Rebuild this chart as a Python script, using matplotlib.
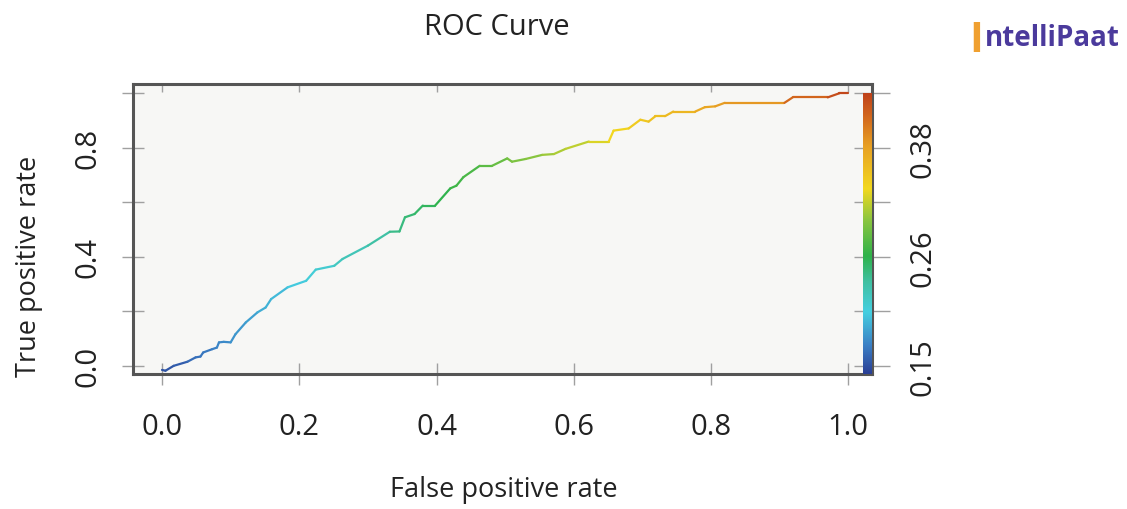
import matplotlib
matplotlib.use("Agg")
import matplotlib.pyplot as plt
import numpy as np
from matplotlib.collections import LineCollection
from matplotlib.colors import LinearSegmentedColormap, Normalize

plt.rcParams['font.family'] = ['Open Sans', 'DejaVu Sans']

# ROC curve points
fpr = [0.0, 0.005, 0.017, 0.037, 0.049, 0.056, 0.060, 0.073, 0.080, 0.083,
       0.090, 0.100, 0.107, 0.122, 0.139, 0.151, 0.159, 0.183, 0.210, 0.224,
       0.251, 0.263, 0.300, 0.332, 0.346, 0.354, 0.368, 0.380, 0.398, 0.420,
       0.429, 0.439, 0.463, 0.481, 0.503, 0.510, 0.530, 0.554, 0.571, 0.588,
       0.622, 0.651, 0.658, 0.680, 0.697, 0.709, 0.719, 0.733, 0.745, 0.777,
       0.791, 0.806, 0.820, 0.907, 0.919, 0.970, 0.987, 1.000]
tpr = [-0.015, -0.018, 0.0, 0.015, 0.031, 0.034, 0.049, 0.061, 0.067, 0.086,
       0.088, 0.086, 0.116, 0.159, 0.196, 0.214, 0.245, 0.288, 0.312, 0.353,
       0.367, 0.392, 0.441, 0.492, 0.493, 0.545, 0.557, 0.588, 0.588, 0.651,
       0.661, 0.692, 0.734, 0.734, 0.761, 0.749, 0.759, 0.774, 0.777, 0.796,
       0.823, 0.823, 0.863, 0.871, 0.903, 0.896, 0.916, 0.916, 0.933, 0.933,
       0.949, 0.952, 0.965, 0.965, 0.985, 0.985, 1.0, 1.0]
cutoff = [0.150, 0.151, 0.155, 0.161, 0.164, 0.166, 0.167, 0.171, 0.173, 0.174,
          0.176, 0.179, 0.181, 0.185, 0.190, 0.193, 0.196, 0.203, 0.210, 0.214,
          0.222, 0.226, 0.236, 0.245, 0.249, 0.252, 0.256, 0.259, 0.264, 0.271,
          0.273, 0.276, 0.283, 0.288, 0.295, 0.297, 0.302, 0.309, 0.314, 0.319,
          0.329, 0.337, 0.339, 0.346, 0.350, 0.354, 0.357, 0.361, 0.364, 0.373,
          0.377, 0.382, 0.386, 0.411, 0.414, 0.429, 0.434, 0.438]

x_ticks = [0.0, 0.2, 0.4, 0.6, 0.8, 1.0]
y_labeled = [0.0, 0.4, 0.8]
y_unlabeled = [0.2, 0.6, 1.0]
cbar_labels = ['0.15', '0.26', '0.38']

cmap = LinearSegmentedColormap.from_list('roc', [
    (0.00, '#2a3f95'), (0.10, '#3b7fc5'), (0.22, '#45cfe0'), (0.33, '#40c0a0'),
    (0.42, '#2fb24a'), (0.55, '#8cc63f'), (0.66, '#f2d81e'), (0.81, '#e8a124'),
    (0.92, '#d2661d'), (1.00, '#bf421a')])
vmin, vmax = 0.14, 0.4375
norm = Normalize(vmin, vmax)

fig = plt.figure(figsize=(11.27, 5.10), dpi=100)
ax = fig.add_axes([0.118, 0.2647, 0.656, 0.5686])
ax.set_facecolor('#f7f7f5')
ax.set_xlim(-0.0423, 1.035)
ax.set_ylim(-0.030, 1.034)

pts = np.column_stack([fpr, tpr]).reshape(-1, 1, 2)
segs = np.concatenate([pts[:-1], pts[1:]], axis=1)
lc = LineCollection(segs, cmap=cmap, norm=norm, linewidths=1.6, capstyle='round')
lc.set_array(np.array(cutoff[:-1]))
ax.add_collection(lc)

# colour bar strip inside the box
grad = np.linspace(vmin, vmax, 256).reshape(-1, 1)
ax.imshow(grad, extent=[1.022, 1.035, -0.030, 1.0], origin='lower',
          aspect='auto', cmap=cmap, norm=norm, zorder=3)

for s in ax.spines.values():
    s.set_color('#555555')
    s.set_linewidth(2.2)

ax.set_xticks(x_ticks)
ax.set_xticklabels([f'{v:.1f}' for v in x_ticks])
ax.set_yticks(y_labeled)
ax.set_yticklabels([f'{v:.1f}' for v in y_labeled], rotation=90, va='center')
ax.set_yticks(y_unlabeled, minor=True)
ax.tick_params(axis='x', direction='inout', length=16, width=1, color='#a0a0a0',
               labelsize=21, labelcolor='#222222', pad=19)
ax.tick_params(axis='y', which='both', direction='inout', length=16, width=1,
               color='#a0a0a0', labelsize=21, labelcolor='#222222', pad=14)

top = ax.secondary_xaxis('top')
top.set_xticks(x_ticks)
top.set_xticklabels([])
top.tick_params(direction='in', length=6, width=1, color='#a0a0a0')
top.spines['top'].set_visible(False)

right = ax.secondary_yaxis('right')
right.set_yticks(y_labeled)
right.set_yticklabels(cbar_labels, rotation=90, va='center')
right.set_yticks(y_unlabeled, minor=True)
right.tick_params(which='both', direction='inout', length=26, width=1,
                  color='#a0a0a0', labelsize=21, labelcolor='#222222', pad=13)
right.spines['right'].set_visible(False)

fig.text(0.441, 0.947, 'ROC Curve', ha='center', va='center', fontsize=21,
         color='#222222')
fig.text(0.447, 0.039, 'False positive rate', ha='center', va='center',
         fontsize=19.5, color='#222222')
fig.text(0.026, 0.477, 'True positive rate', ha='center', va='center',
         rotation=90, fontsize=19.5, color='#222222')

# logo
fig.text(0.866, 0.918, 'I', ha='center', va='center', fontsize=30,
         fontweight='bold', color='#f0a030')
fig.text(0.994, 0.925, 'ntelliPaat', ha='right', va='center', fontsize=20,
         fontweight='bold', color='#4b3a9c')

fig.savefig('out.png', dpi=100)
